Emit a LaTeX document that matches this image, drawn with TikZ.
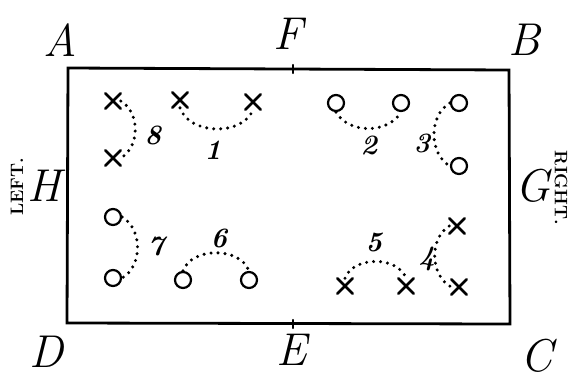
\documentclass[tikz,border=0pt]{standalone}
\usepackage{fontspec}
\usepackage{tikz}
\usetikzlibrary{shapes.misc}

\begin{document}
\begin{tikzpicture}[x=1pt,y=-1pt,line cap=round,
  xp/.style={draw,cross out,line width=2.6pt,minimum size=13pt,inner sep=0pt},
  op/.style={draw,circle,line width=2.2pt,minimum size=16pt,inner sep=0pt},
  run/.style={line width=3.4pt,dash pattern=on 0pt off 7pt},
  corner/.style={font=\fontsize{46}{46}\selectfont\itshape},
  num/.style={font=\fontsize{28}{28}\selectfont\itshape\bfseries},
  side/.style={font=\fontsize{18}{18}\selectfont\bfseries}]
\useasboundingbox (0,0) rectangle (573,384);
% field
\coordinate (a) at (68,68);
\coordinate (b) at (509,70);
\coordinate (c) at (510,324);
\coordinate (d) at (67,323);
\coordinate (f) at (293,69);
\coordinate (e) at (293,324);
\draw[line width=2.8pt] (a)--(b)--(c)--(d)--cycle;
\draw[line width=2.2pt] ([yshift=-4pt]f)--([yshift=4pt]f) ([yshift=-4pt]e)--([yshift=4pt]e);
\node[corner] (la) at (60,40) {A};
\node[corner] (lf) at (288,34) {F};
\node[corner] (lb) at (524,40) {B};
\node[corner] (lh) at (44,186) {H};
\node[corner] (lg) at (533,186) {G};
\node[corner] (ld) at (46,352) {D};
\node[corner] (le) at (292,350) {E};
\node[corner] (lc) at (537,356) {C};
\node[side,rotate=90] (left) at (17,187) {LEFT.};
\node[side,rotate=-90] (right) at (561,188) {RIGHT.};
% upper left: crosses
\node[xp] (p8a) at (113,101) {};
\node[xp] (p8b) at (113,158) {};
\node[xp] (p1a) at (180,100) {};
\node[xp] (p1b) at (253,102) {};
% upper right: circles
\node[op] (p2a) at (336,103) {};
\node[op] (p2b) at (401,103) {};
\node[op] (p3a) at (459,103) {};
\node[op] (p3b) at (459,166) {};
% lower left: circles
\node[op] (p7a) at (113,217) {};
\node[op] (p7b) at (113,278) {};
\node[op] (p6a) at (183,280) {};
\node[op] (p6b) at (249,280) {};
% lower right: crosses
\node[xp] (p5a) at (345,286) {};
\node[xp] (p5b) at (406,286) {};
\node[xp] (p4a) at (457,226) {};
\node[xp] (p4b) at (459,287) {};
% runs
\draw[run] (p8a.east) to[bend left=60] (p8b.east);
\draw[run] (p1a.south) to[bend right=70] (p1b.south);
\draw[run] (p2a.south) to[bend right=60] (p2b.south);
\draw[run] (p3a.west) to[bend right=60] (p3b.west);
\draw[run] (p7a.east) to[bend left=60] (p7b.east);
\draw[run] (p6a.north) to[bend left=70] (p6b.north);
\draw[run] (p5a.north) to[bend left=70] (p5b.north);
\draw[run] (p4a.west) to[bend right=60] (p4b.west);
% numbers
\node[num] (n1) at (213,150) {1};
\node[num] (n2) at (369,145) {2};
\node[num] (n3) at (422,143) {3};
\node[num] (n4) at (427,259) {4};
\node[num] (n5) at (374,242) {5};
\node[num] (n6) at (219,238) {6};
\node[num] (n7) at (156,246) {7};
\node[num] (n8) at (153,135) {8};
\end{tikzpicture}
\end{document}
